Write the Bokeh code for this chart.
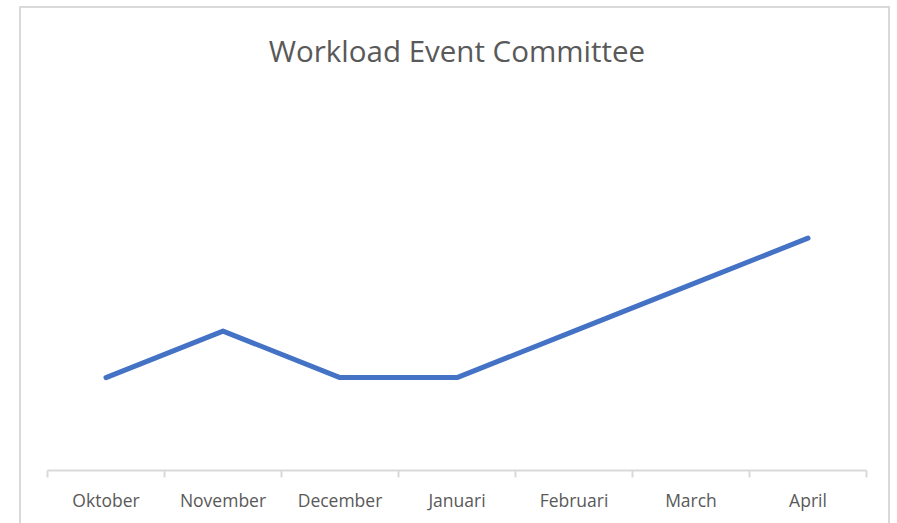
from bokeh.plotting import figure
from bokeh.models import Range1d, FixedTicker, Label
from bokeh.embed import file_html
from bokeh.resources import INLINE

months = ["Oktober", "November", "December", "Januari", "Februari", "March", "April"]
workload = [2, 3, 2, 2, 3, 4, 5]
title_text = "Workload Event Committee"

xs = list(range(len(months)))

p = figure(width=871, height=520, output_backend="svg", toolbar_location=None,
           x_range=Range1d(-0.5, len(months) - 0.5), y_range=Range1d(0, 9.9),
           y_axis_location=None, min_border_left=26, min_border_right=26,
           min_border_top=2, min_border_bottom=58)
p.margin = (6, 0, 0, 19)
p.styles = {"border": "2px solid #D9D9D9", "box-sizing": "border-box"}
p.outline_line_color = None
p.xgrid.visible = False
p.ygrid.visible = False

title = Label(x=(len(months) - 1) / 2, y=9.04, text=title_text,
              text_align="center", text_baseline="alphabetic",
              text_font="Open Sans", text_font_size="29.5px",
              text_color="#595959")
p.add_layout(title)

p.line(xs, workload, line_color="#4472C4", line_width=5, line_cap="round", line_join="round")

ax = p.xaxis[0]
ax.ticker = FixedTicker(ticks=xs, minor_ticks=[i - 0.5 for i in range(len(months) + 1)])
ax.major_label_overrides = {i: m for i, m in enumerate(months)}
ax.major_tick_line_color = None
ax.major_tick_in = 0
ax.major_tick_out = 0
ax.minor_tick_in = 0
ax.minor_tick_out = 7
ax.minor_tick_line_color = "#D9D9D9"
ax.minor_tick_line_width = 2
ax.axis_line_color = "#D9D9D9"
ax.axis_line_width = 2
ax.major_label_text_font = "Open Sans"
ax.major_label_text_font_size = "17.5px"
ax.major_label_text_color = "#595959"
ax.major_label_standoff = 10

open("out.html", "w").write(file_html(p, INLINE))
